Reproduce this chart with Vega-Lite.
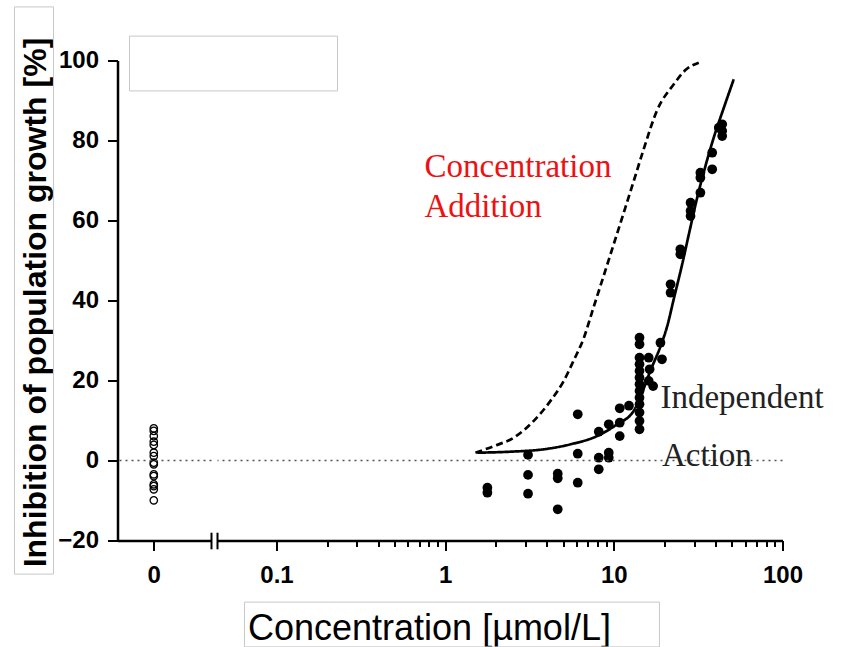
{
  "$schema": "https://vega.github.io/schema/vega-lite/v6.json",
  "padding": {"left": 13.5, "top": 5.5, "right": 5, "bottom": 0},
  "background": "white",
  "config": {
    "view": {"stroke": null},
    "font": "Liberation Sans",
    "axis": {
      "domainColor": "black", "domainWidth": 2.5, "tickColor": "black", "tickWidth": 2,
      "labelColor": "black", "labelFont": "Liberation Sans", "labelFontWeight": "bold", "labelFontSize": 24,
      "grid": false, "titleColor": "black", "titleFont": "Liberation Sans"
    }
  },
  "datasets": {
    "ctrl": [
      {"conc": 0, "inhib": 8.05}, {"conc": 0, "inhib": 7.4}, {"conc": 0, "inhib": 6.1}, {"conc": 0, "inhib": 4.7},
      {"conc": 0, "inhib": 3.9}, {"conc": 0, "inhib": 1.95}, {"conc": 0, "inhib": 1.1}, {"conc": 0, "inhib": -0.55},
      {"conc": 0, "inhib": -0.95}, {"conc": 0, "inhib": -3.45}, {"conc": 0, "inhib": -3.9}, {"conc": 0, "inhib": -5.95},
      {"conc": 0, "inhib": -6.4}, {"conc": 0, "inhib": -7.2}, {"conc": 0, "inhib": -9.95}
    ],
    "mix": [
      {"conc": 1.78, "inhib": -6.8}, {"conc": 1.78, "inhib": -8.05},
      {"conc": 3.1, "inhib": 1.4}, {"conc": 3.1, "inhib": -3.6}, {"conc": 3.1, "inhib": -8.3},
      {"conc": 4.65, "inhib": -3.3}, {"conc": 4.65, "inhib": -4.45}, {"conc": 4.65, "inhib": -12.2},
      {"conc": 6.11, "inhib": 11.55}, {"conc": 6.11, "inhib": 1.7}, {"conc": 6.11, "inhib": -5.55},
      {"conc": 8.14, "inhib": 7.2}, {"conc": 8.14, "inhib": 0.7}, {"conc": 8.14, "inhib": -2.2},
      {"conc": 9.33, "inhib": 9.05}, {"conc": 9.33, "inhib": 1.95}, {"conc": 9.33, "inhib": 0.7},
      {"conc": 10.84, "inhib": 13.05}, {"conc": 10.84, "inhib": 9.45}, {"conc": 10.84, "inhib": 6.1},
      {"conc": 12.3, "inhib": 13.7},
      {"conc": 14.2, "inhib": 30.7}, {"conc": 14.2, "inhib": 29.05}, {"conc": 14.2, "inhib": 25.7}, {"conc": 14.2, "inhib": 24.05},
      {"conc": 14.2, "inhib": 22.4}, {"conc": 14.2, "inhib": 20.7}, {"conc": 14.2, "inhib": 19.05}, {"conc": 14.2, "inhib": 17.4},
      {"conc": 14.2, "inhib": 15.7}, {"conc": 14.2, "inhib": 14.05}, {"conc": 14.2, "inhib": 12.0}, {"conc": 14.2, "inhib": 9.9},
      {"conc": 14.2, "inhib": 7.8},
      {"conc": 16.1, "inhib": 25.7}, {"conc": 16.3, "inhib": 22.8}, {"conc": 16.1, "inhib": 19.9}, {"conc": 17.1, "inhib": 18.6},
      {"conc": 18.9, "inhib": 29.45}, {"conc": 19.3, "inhib": 25.3},
      {"conc": 21.7, "inhib": 44.05}, {"conc": 21.7, "inhib": 41.95},
      {"conc": 24.8, "inhib": 52.8}, {"conc": 24.8, "inhib": 51.55},
      {"conc": 28.5, "inhib": 64.45}, {"conc": 28.5, "inhib": 62.4}, {"conc": 28.5, "inhib": 61.1},
      {"conc": 32.6, "inhib": 71.95}, {"conc": 32.6, "inhib": 70.7}, {"conc": 32.6, "inhib": 66.95},
      {"conc": 38.3, "inhib": 76.95}, {"conc": 38.3, "inhib": 72.8},
      {"conc": 43.9, "inhib": 84.05}, {"conc": 43.9, "inhib": 82.4}, {"conc": 43.9, "inhib": 81.1}, {"conc": 41.9, "inhib": 83.2}
    ],
    "curves": [
      {"model": "CA", "conc": 1.512, "inhib": 1.95}, {"model": "CA", "conc": 1.942, "inhib": 3.6},
      {"model": "CA", "conc": 2.551, "inhib": 5.7}, {"model": "CA", "conc": 3.352, "inhib": 9.9},
      {"model": "CA", "conc": 4.211, "inhib": 14.9}, {"model": "CA", "conc": 5.049, "inhib": 19.9},
      {"model": "CA", "conc": 5.765, "inhib": 24.9}, {"model": "CA", "conc": 6.633, "inhib": 30.6},
      {"model": "CA", "conc": 7.57, "inhib": 38.2}, {"model": "CA", "conc": 8.716, "inhib": 46.25},
      {"model": "CA", "conc": 9.99, "inhib": 54.1}, {"model": "CA", "conc": 11.45, "inhib": 61.95},
      {"model": "CA", "conc": 13.13, "inhib": 69.9}, {"model": "CA", "conc": 15.05, "inhib": 77.9},
      {"model": "CA", "conc": 18.07, "inhib": 87.6}, {"model": "CA", "conc": 22.67, "inhib": 94.05},
      {"model": "CA", "conc": 26.58, "inhib": 97.6}, {"model": "CA", "conc": 31.88, "inhib": 99.45},
      {"model": "IA", "conc": 1.55, "inhib": 1.95}, {"model": "IA", "conc": 2.44, "inhib": 2.2},
      {"model": "IA", "conc": 3.84, "inhib": 2.8}, {"model": "IA", "conc": 5.54, "inhib": 4.05},
      {"model": "IA", "conc": 7.95, "inhib": 6.1}, {"model": "IA", "conc": 10.45, "inhib": 9.05},
      {"model": "IA", "conc": 13.1, "inhib": 12.4}, {"model": "IA", "conc": 14.3, "inhib": 15.5},
      {"model": "IA", "conc": 15.5, "inhib": 19.5}, {"model": "IA", "conc": 16.5, "inhib": 22.5},
      {"model": "IA", "conc": 18.9, "inhib": 28.5}, {"model": "IA", "conc": 20.7, "inhib": 33.5},
      {"model": "IA", "conc": 22.7, "inhib": 40.5}, {"model": "IA", "conc": 25.4, "inhib": 49},
      {"model": "IA", "conc": 28.0, "inhib": 57}, {"model": "IA", "conc": 31.2, "inhib": 65.7},
      {"model": "IA", "conc": 34.3, "inhib": 72.4}, {"model": "IA", "conc": 39.1, "inhib": 80.7},
      {"model": "IA", "conc": 44.9, "inhib": 88.2}, {"model": "IA", "conc": 51.4, "inhib": 95.3}
    ]
  },
  "bounds": "flush",
  "spacing": 6,
  "resolve": {"scale": {"x": "independent", "y": "independent"}},
  "hconcat": [
    {
      "width": 94,
      "height": 480,
      "layer": [
        {
          "data": {"name": "ctrl"},
          "mark": {"type": "point", "shape": "circle", "filled": false, "color": "black", "size": 55, "strokeWidth": 1.3, "opacity": 1},
          "encoding": {
            "x": {"field": "conc", "type": "quantitative",
              "scale": {"domain": [-0.386, 0.614], "nice": false, "zero": false},
              "axis": {"values": [0], "labelExpr": "'0'", "tickSize": 10, "labelPadding": 13, "title": ""}},
            "y": {"field": "inhib", "type": "quantitative",
              "scale": {"domain": [-20, 100], "nice": false, "zero": false},
              "axis": {"values": [-20, 0, 20, 40, 60, 80, 100], "tickSize": 10, "labelPadding": 9,
                "title": "Inhibition of population growth [%]", "titleFontSize": 32, "titleFontWeight": "bold",
                "titleX": -72, "titleY": 241.5, "titleAlign": "center", "titleBaseline": "alphabetic", "titleAngle": 270}}
          }
        },
        {
          "data": {"values": [{}]},
          "mark": {"type": "rule", "color": "#555555", "strokeDash": [2, 4], "strokeWidth": 1.5},
          "encoding": {"y": {"datum": 0, "type": "quantitative"}}
        },
        {
          "data": {"values": [{}]},
          "mark": {"type": "rect", "fill": "white", "fillOpacity": 0, "stroke": "#c8c8c8", "strokeWidth": 1},
          "encoding": {
            "x": {"datum": -1.482, "type": "quantitative"}, "x2": {"datum": -1.067},
            "y": {"datum": 113.4, "type": "quantitative"}, "y2": {"datum": -28.4}
          }
        },
        {
          "data": {"values": [{}]},
          "mark": {"type": "rect", "fill": "white", "stroke": "#c8c8c8", "strokeWidth": 1},
          "encoding": {
            "x": {"datum": -0.2583, "type": "quantitative"}, "x2": {"datum": 1.9544},
            "y": {"datum": 106.1, "type": "quantitative"}, "y2": {"datum": 92.4}
          }
        },
        {
          "data": {"values": [{}]},
          "mark": {"type": "rule", "color": "black", "strokeWidth": 2},
          "encoding": {
            "x": {"datum": 0.614, "type": "quantitative"},
            "y": {"datum": -18.05, "type": "quantitative"}, "y2": {"datum": -22.2}
          }
        }
      ]
    },
    {
      "width": 565,
      "height": 480,
      "layer": [
        {
          "data": {"name": "mix"},
          "mark": {"type": "point", "shape": "circle", "filled": true, "color": "black", "size": 95, "opacity": 1},
          "encoding": {
            "x": {"field": "conc", "type": "quantitative",
              "scale": {"type": "log", "domain": [0.0447, 100], "nice": false},
              "axis": {
                "values": [0.1, 0.2, 0.3, 0.4, 0.5, 0.6, 0.7, 0.8, 0.9, 1, 2, 3, 4, 5, 6, 7, 8, 9, 10, 20, 30, 40, 50, 60, 70, 80, 90, 100],
                "labelExpr": "datum.value == 0.1 ? '0.1' : datum.value == 1 ? '1' : datum.value == 10 ? '10' : datum.value == 100 ? '100' : ''",
                "tickSize": {"condition": {"test": "datum.value == 0.1 || datum.value == 1 || datum.value == 10 || datum.value == 100", "value": 10}, "value": 6},
                "labelPadding": 13, "labelOverlap": false, "labelFlush": false,
                "title": "Concentration [µmol/L]", "titleFontSize": 36, "titleFontWeight": "normal",
                "titleX": 30, "titleY": 98.5, "titleAlign": "left", "titleBaseline": "alphabetic"
              }},
            "y": {"field": "inhib", "type": "quantitative", "scale": {"domain": [-20, 100], "nice": false, "zero": false},
              "axis": {"domain": false, "ticks": false, "labels": false, "title": ""}}
          }
        },
        {
          "data": {"values": [{}]},
          "mark": {"type": "rule", "color": "#555555", "strokeDash": [2, 4], "strokeWidth": 1.5},
          "encoding": {"y": {"datum": 0, "type": "quantitative"}}
        },
        {
          "data": {"name": "curves"},
          "mark": {"type": "line", "color": "black", "strokeWidth": 2.7, "interpolate": "monotone"},
          "encoding": {
            "x": {"field": "conc", "type": "quantitative"},
            "y": {"field": "inhib", "type": "quantitative"},
            "strokeDash": {"field": "model", "type": "nominal", "scale": {"domain": ["IA", "CA"], "range": [[1, 0], [7, 4]]}, "legend": null}
          }
        },
        {
          "data": {"values": [{}]},
          "mark": {"type": "text", "text": ["Concentration", "Addition"], "font": "Liberation Serif", "fontSize": 33, "color": "#ee1111", "align": "left", "baseline": "alphabetic", "lineHeight": 40},
          "encoding": {"x": {"datum": 0.754, "type": "quantitative"}, "y": {"datum": 70.9, "type": "quantitative"}}
        },
        {
          "data": {"values": [{}]},
          "mark": {"type": "text", "text": "Independent", "font": "Liberation Serif", "fontSize": 33, "color": "#222222", "align": "left", "baseline": "alphabetic"},
          "encoding": {"x": {"datum": 18.9, "type": "quantitative"}, "y": {"datum": 13.2, "type": "quantitative"}}
        },
        {
          "data": {"values": [{}]},
          "mark": {"type": "text", "text": "Action", "font": "Liberation Serif", "fontSize": 33, "color": "#222222", "align": "left", "baseline": "alphabetic"},
          "encoding": {"x": {"datum": 19.3, "type": "quantitative"}, "y": {"datum": -1.4, "type": "quantitative"}}
        },
        {
          "data": {"values": [{}]},
          "mark": {"type": "rect", "fill": "white", "fillOpacity": 0, "stroke": "#c8c8c8", "strokeWidth": 1},
          "encoding": {
            "x": {"datum": 0.0646, "type": "quantitative"}, "x2": {"datum": 18.64},
            "y": {"datum": -35.4, "type": "quantitative"}, "y2": {"datum": -46.6}
          }
        },
        {
          "data": {"values": [{}]},
          "mark": {"type": "rule", "color": "black", "strokeWidth": 2},
          "encoding": {
            "x": {"datum": 0.0447, "type": "quantitative"},
            "y": {"datum": -18.05, "type": "quantitative"}, "y2": {"datum": -22.2}
          }
        }
      ]
    }
  ]
}
